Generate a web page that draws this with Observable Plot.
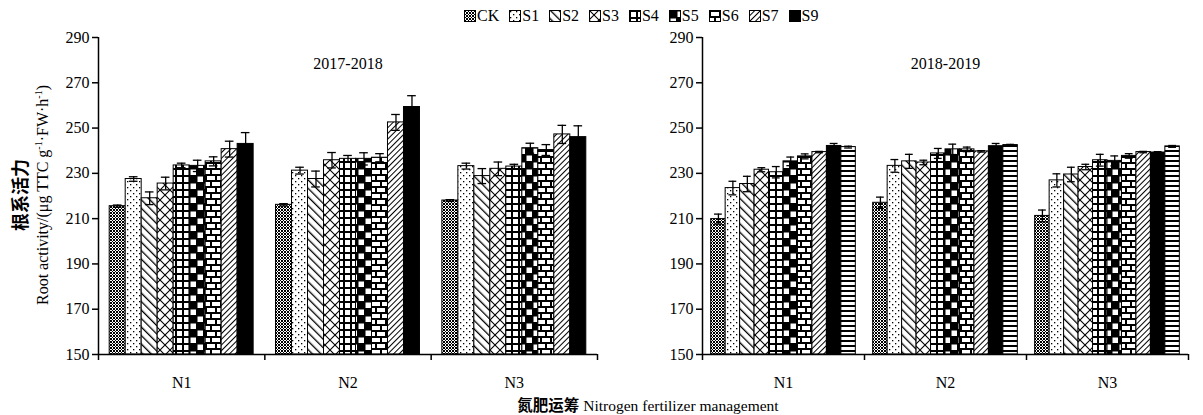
<!DOCTYPE html>
<html><head><meta charset="utf-8">
<script src="https://cdn.jsdelivr.net/npm/d3@7"></script>
<script src="https://cdn.jsdelivr.net/npm/@observablehq/plot@0.6"></script>
<style>
body{margin:0;background:#fff;font-family:"Liberation Serif",serif;color:#000;}
#wrap{position:relative;width:1203px;height:415px;overflow:hidden;background:#fff;}
#legend{position:absolute;left:464px;top:7px;display:flex;align-items:center;white-space:nowrap;font-size:16px;line-height:18px;}
#legend .it{display:flex;align-items:center;margin-right:10px;}
#legend svg{margin-right:1px;}
#ytitle{position:absolute;left:-149px;top:171px;width:360px;height:48px;transform:rotate(-90deg);transform-origin:center;text-align:center;line-height:24px;}
#ytitle .zh{font-family:"Noto Sans CJK SC",sans-serif;font-size:18px;font-weight:bold;}
#ytitle .en{font-size:16px;}
#ytitle sup{font-size:10px;vertical-align:6px;line-height:0;}
#xtitle{position:absolute;left:0;width:1296px;top:395px;text-align:center;font-size:15.5px;line-height:18px;}
#xtitle .zh{font-family:"Noto Sans CJK SC",sans-serif;font-weight:bold;}
</style></head><body>
<div id="wrap">
<svg width="0" height="0" style="position:absolute;left:0;top:0">
<defs>
<pattern id="pCK" patternUnits="userSpaceOnUse" width="3" height="3"><rect width="3" height="3" fill="#fff"/><rect x="0" y="0" width="1" height="1" fill="#000"/><rect x="1" y="1" width="1" height="1" fill="#000"/><rect x="2" y="2" width="1" height="1" fill="#000"/><rect x="2" y="0" width="1" height="1" fill="#000"/><rect x="0" y="2" width="1" height="1" fill="#000"/></pattern>
<pattern id="pS1" patternUnits="userSpaceOnUse" width="6" height="6"><rect width="6" height="6" fill="#fff"/><rect x="1" y="1" width="1.3" height="1.3" fill="#000"/><rect x="4" y="4" width="1.3" height="1.3" fill="#000"/></pattern>
<pattern id="pS2" patternUnits="userSpaceOnUse" width="6" height="6" patternTransform="rotate(-45)"><rect width="6" height="6" fill="#fff"/><rect x="0" y="0" width="1.3" height="6" fill="#000"/></pattern>
<pattern id="pS3" patternUnits="userSpaceOnUse" width="10" height="10"><rect width="10" height="10" fill="#fff"/><path d="M0 0L10 10M10 0L0 10" stroke="#000" stroke-width="1.1"/></pattern>
<pattern id="pS4" patternUnits="userSpaceOnUse" width="7" height="7"><rect width="7" height="7" fill="#fff"/><path d="M0 1H7M1 0V7" stroke="#000" stroke-width="2"/></pattern>
<pattern id="pS5" patternUnits="userSpaceOnUse" width="14" height="14"><rect width="14" height="14" fill="#fff"/><rect x="0" y="0" width="7" height="7" fill="#000"/><rect x="7" y="7" width="7" height="7" fill="#000"/><path d="M0 0.75H14M0 7.75H14M0.75 0V14M7.75 0V14" stroke="#000" stroke-width="1.5"/></pattern>
<pattern id="pS6" patternUnits="userSpaceOnUse" width="10" height="12"><rect width="10" height="12" fill="#fff"/><path d="M0 1H10M0 7H10M1 0V7M6 6V12" stroke="#000" stroke-width="2"/></pattern>
<pattern id="pS7" patternUnits="userSpaceOnUse" width="4" height="4" patternTransform="rotate(45)"><rect width="4" height="4" fill="#fff"/><rect x="0" y="0" width="1" height="4" fill="#000"/></pattern>
<pattern id="pS9" patternUnits="userSpaceOnUse" width="4" height="4"><rect width="4" height="4" fill="#000"/></pattern>
<pattern id="pS8" patternUnits="userSpaceOnUse" width="5" height="5"><rect width="5" height="5" fill="#fff"/><rect x="0" y="0" width="5" height="2" fill="#000"/></pattern>
</defs>
</svg>
<div id="legend"></div>
<div id="left" style="position:absolute;left:0;top:0"></div>
<div id="right" style="position:absolute;left:600px;top:0"></div>
<div id="ytitle"><div class="zh">根系活力</div><div class="en">Root activity/(μg TTC g<sup>-1</sup>·FW·h<sup>-1</sup>)</div></div>
<div id="xtitle"><span class="zh">氮肥运筹</span> Nitrogen fertilizer management</div>
</div>
<script>
// ---- data ----
const groups = ["N1", "N2", "N3"];
const legendSeries = ["CK", "S1", "S2", "S3", "S4", "S5", "S6", "S7", "S9"];
const series2017 = ["CK", "S1", "S2", "S3", "S4", "S5", "S6", "S7", "S9"];
const series2018 = ["CK", "S1", "S2", "S3", "S4", "S5", "S6", "S7", "S9", "S8"];
const yTicks = [150, 170, 190, 210, 230, 250, 270, 290];

const values2017 = [
  [215.5, 227.5, 219.0, 225.5, 233.5, 233.3, 235.3, 240.7, 243.0],
  [216.1, 231.2, 227.5, 235.8, 236.4, 236.4, 236.9, 252.5, 259.3],
  [218.0, 233.2, 228.8, 232.0, 233.0, 241.1, 240.3, 247.2, 246.0]
];
const errors2017 = [
  [0.5, 1.0, 2.8, 2.8, 1.0, 2.5, 2.0, 3.5, 5.0],
  [0.5, 1.5, 3.5, 3.4, 1.5, 2.7, 1.8, 3.5, 5.0],
  [0.4, 1.3, 3.3, 3.0, 1.0, 2.2, 2.4, 4.0, 5.0]
];
const values2018 = [
  [209.8, 223.5, 225.3, 231.6, 230.5, 235.3, 237.5, 239.4, 242.1, 241.6],
  [217.0, 233.3, 235.3, 234.8, 238.8, 240.6, 240.6, 239.7, 242.0, 242.5],
  [211.2, 226.9, 229.5, 232.8, 235.8, 235.5, 237.7, 239.4, 239.2, 241.9]
];
const errors2018 = [
  [2.2, 3.0, 3.4, 0.9, 2.5, 1.9, 1.1, 0.3, 1.1, 0.4],
  [2.5, 2.8, 3.1, 1.0, 2.2, 2.3, 1.0, 0.3, 1.2, 0.3],
  [2.6, 2.9, 3.2, 1.2, 2.6, 2.2, 1.0, 0.3, 0.4, 0.4]
];

const allSeries = ["CK", "S1", "S2", "S3", "S4", "S5", "S6", "S7", "S8", "S9"];

function panel(el, {title, series, vals, errs, pad, marginLeft, marginRight, width}) {
  const n = series.length, step = n + 2 * pad;
  const rows = [];
  groups.forEach((g, gi) => series.forEach((s, si) => rows.push({
    g, s, v: vals[gi][si], e: errs[gi][si], c: gi * step + pad + si + 0.5
  })));
  const chart = Plot.plot({
    width, height: 395, marginTop: 37, marginBottom: 41, marginLeft, marginRight,
    style: {fontFamily: "Liberation Serif, serif", fontSize: "16px", color: "#000", background: "transparent", overflow: "visible"},
    x: {domain: [0, 3 * step]},
    y: {domain: [150, 290]},
    color: {type: "ordinal", domain: allSeries, range: allSeries.map(s => `url(#p${s})`)},
    marks: [
      Plot.rect(rows, {x1: d => d.c - 0.5, x2: d => d.c + 0.5, y1: 150, y2: "v", fill: "s", stroke: "#000", strokeWidth: 1}),
      Plot.ruleX(rows, {x: "c", y1: d => d.v - d.e, y2: d => d.v + d.e, stroke: "#000", strokeWidth: 1.3}),
      Plot.ruleY(rows, {y: d => d.v + d.e, x1: d => d.c - 0.27, x2: d => d.c + 0.27, stroke: "#000", strokeWidth: 1.3}),
      Plot.ruleY(rows, {y: d => d.v - d.e, x1: d => d.c - 0.27, x2: d => d.c + 0.27, stroke: "#000", strokeWidth: 1.3}),
      Plot.ruleX([0], {stroke: "#000", strokeWidth: 1.5}),
      Plot.ruleY([150], {stroke: "#000", strokeWidth: 1.5}),
      Plot.axisY({ticks: yTicks, tickSize: 6, tickPadding: 3, label: null, stroke: "#000", strokeWidth: 1.5}),
      Plot.axisX({ticks: [0, step, 2 * step, 3 * step], tickSize: 6, tickFormat: () => "", label: null, stroke: "#000", strokeWidth: 1.5}),
      Plot.text(groups, {x: (d, i) => (i + 0.5) * step, y: 150, dy: 28, fill: "#000"}),
      Plot.text([title], {frameAnchor: "top", dy: 20, fill: "#000"})
    ]
  });
  document.getElementById(el).append(chart);
}

panel("left", {title: "2017-2018", series: series2017, vals: values2017, errs: errors2017, pad: 0.7, marginLeft: 98, marginRight: 3, width: 600});
panel("right", {title: "2018-2019", series: series2018, vals: values2018, errs: errors2018, pad: 0.6, marginLeft: 102, marginRight: 15, width: 603});

const leg = document.getElementById("legend");
legendSeries.forEach(s => {
  const it = document.createElement("div");
  it.className = "it";
  it.innerHTML = `<svg width="12" height="12"><rect x="0.5" y="0.5" width="11" height="11" fill="url(#p${s})" stroke="#000"/></svg><span>${s}</span>`;
  leg.append(it);
});
</script>
</body></html>
